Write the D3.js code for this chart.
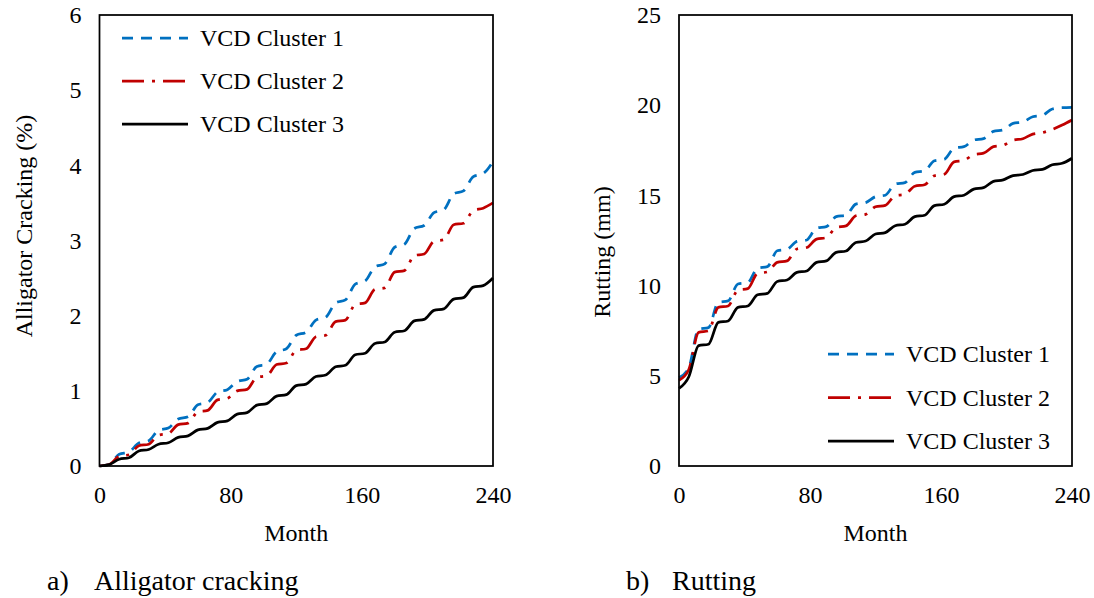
<!DOCTYPE html>
<html>
<head>
<meta charset="utf-8">
<script src="https://cdn.jsdelivr.net/npm/d3@7"></script>
<style>
  html, body { margin: 0; padding: 0; background: #fff; }
  svg { display: block; }
  text { font-family: "Liberation Serif", "Times New Roman", serif; fill: #000; }
</style>
</head>
<body>
<svg id="chart" width="1094" height="598"></svg>
<script>
// ---- Data ----
const months = [0,6,12,18,24,30,36,42,48,54,60,66,72,78,84,90,96,102,108,114,120,126,132,138,144,150,156,162,168,174,180,186,192,198,204,210,216,222,228,234,240];

const seriesNames = ["VCD Cluster 1", "VCD Cluster 2", "VCD Cluster 3"];

// Alligator cracking (%)
const crackC1 = [0.00,0.02,0.155,0.185,0.305,0.335,0.475,0.505,0.625,0.655,0.815,0.845,0.985,1.015,1.125,1.155,1.325,1.355,1.52,1.56,1.74,1.78,1.94,1.98,2.17,2.21,2.42,2.46,2.65,2.69,2.91,2.95,3.16,3.20,3.37,3.41,3.62,3.66,3.85,3.89,4.05];
const crackC2 = [0.00,0.02,0.13,0.15,0.27,0.29,0.41,0.43,0.55,0.57,0.72,0.74,0.88,0.90,1.00,1.02,1.18,1.20,1.35,1.37,1.54,1.56,1.72,1.74,1.92,1.94,2.15,2.17,2.35,2.37,2.58,2.60,2.80,2.82,2.99,3.01,3.21,3.23,3.40,3.43,3.50];
const crackC3 = [0.00,0.02,0.09,0.11,0.20,0.22,0.29,0.31,0.38,0.40,0.48,0.50,0.58,0.60,0.69,0.71,0.81,0.83,0.93,0.95,1.07,1.09,1.19,1.21,1.32,1.34,1.48,1.50,1.63,1.65,1.78,1.80,1.93,1.95,2.07,2.09,2.22,2.24,2.38,2.40,2.50];

// Rutting (mm)
const rutC1 = [4.90,5.45,7.59,7.67,9.07,9.15,10.09,10.17,10.97,11.05,11.93,12.01,12.45,12.53,13.19,13.27,13.82,13.90,14.52,14.60,14.93,15.01,15.63,15.71,16.28,16.36,16.92,17.00,17.62,17.70,18.07,18.15,18.55,18.63,18.99,19.07,19.36,19.44,19.79,19.86,19.88];
const rutC2 = [4.75,5.35,7.41,7.49,8.79,8.87,9.75,9.83,10.68,10.76,11.29,11.37,12.03,12.11,12.58,12.66,13.23,13.31,13.87,13.95,14.37,14.45,14.98,15.06,15.51,15.59,16.09,16.17,16.86,16.94,17.26,17.34,17.70,17.78,18.06,18.14,18.40,18.48,18.66,18.90,19.18];
const rutC3 = [4.30,4.95,6.67,6.75,7.96,8.04,8.79,8.87,9.49,9.57,10.23,10.31,10.73,10.81,11.29,11.37,11.84,11.92,12.39,12.47,12.86,12.94,13.32,13.40,13.82,13.90,14.43,14.51,14.93,15.01,15.35,15.43,15.78,15.86,16.10,16.16,16.38,16.44,16.70,16.78,17.06];

const xTicks = [0, 80, 160, 240];
const crackYTicks = [0, 1, 2, 3, 4, 5, 6];
const rutYTicks = [0, 5, 10, 15, 20, 25];

// ---- Styles ----
const colors = ["#0070C0", "#C00000", "#000000"];
const dashes = ["11,8", "22,8,3,8", null];
const lineW = 2.75;

const svg = d3.select("#chart");

function panel(opts) {
  const { left, right, top, bottom, yMax, yTicks, yTitle, yTitleX, yTitleY, series,
          legendX, legendY, legendGap, caption, captionX, captionTextX } = opts;
  const x = d3.scaleLinear().domain([0, 240]).range([left, right]);
  const y = d3.scaleLinear().domain([0, yMax]).range([bottom, top]);
  const g = svg.append("g");

  // curves
  const line = d3.line()
    .x((d, i) => x(months[i]))
    .y(d => y(d))
    .curve(d3.curveMonotoneX);
  series.forEach((s, i) => {
    g.append("path")
      .attr("d", line(s))
      .attr("fill", "none")
      .attr("stroke", colors[i])
      .attr("stroke-width", lineW)
      .attr("stroke-dasharray", dashes[i]);
  });

  // frame
  g.append("rect")
    .attr("x", left).attr("y", top)
    .attr("width", right - left).attr("height", bottom - top)
    .attr("fill", "none").attr("stroke", "#000").attr("stroke-width", 1.75);

  // y tick labels
  const yAxis = d3.axisLeft(y).tickValues(yTicks).tickFormat(d3.format("d")).tickSize(0).tickPadding(18);
  const ya = g.append("g").attr("transform", `translate(${left},0)`).call(yAxis);
  ya.select(".domain").remove();
  ya.selectAll("text").style("font-size", "24px").style("font-family", '"Liberation Serif", serif').attr("fill", "#000");

  // x tick labels
  const xAxis = d3.axisBottom(x).tickValues(xTicks).tickFormat(d3.format("d")).tickSize(0).tickPadding(20);
  const xa = g.append("g").attr("transform", `translate(0,${bottom})`).call(xAxis);
  xa.select(".domain").remove();
  xa.selectAll("text").style("font-size", "24px").style("font-family", '"Liberation Serif", serif').attr("fill", "#000");

  // x title
  g.append("text")
    .attr("x", (left + right) / 2).attr("y", 541)
    .attr("text-anchor", "middle")
    .style("font-size", "24px")
    .text("Month");

  // y title
  g.append("text")
    .attr("transform", `translate(${yTitleX},${yTitleY}) rotate(-90)`)
    .attr("text-anchor", "middle")
    .style("font-size", "24px")
    .text(yTitle);

  // legend
  seriesNames.forEach((name, i) => {
    const ly = legendY + i * legendGap;
    g.append("line")
      .attr("x1", legendX).attr("x2", legendX + 66)
      .attr("y1", ly).attr("y2", ly)
      .attr("stroke", colors[i]).attr("stroke-width", lineW)
      .attr("stroke-dasharray", dashes[i]);
    g.append("text")
      .attr("x", legendX + 78).attr("y", ly)
      .attr("dy", "0.35em")
      .style("font-size", "24px")
      .text(name);
  });

  // caption
  g.append("text").attr("x", captionX).attr("y", 590).style("font-size", "28px").text(caption[0]);
  g.append("text").attr("x", captionTextX).attr("y", 590).style("font-size", "28px").text(caption[1]);
}

panel({
  left: 99.5, right: 493, top: 15, bottom: 466,
  yMax: 6, yTicks: crackYTicks, yTitle: "Alligator Cracking (%)", yTitleX: 32, yTitleY: 226,
  series: [crackC1, crackC2, crackC3],
  legendX: 122, legendY: 38, legendGap: 43,
  caption: ["a)", "Alligator cracking"], captionX: 47, captionTextX: 94
});

panel({
  left: 679, right: 1072, top: 15, bottom: 466,
  yMax: 25, yTicks: rutYTicks, yTitle: "Rutting (mm)", yTitleX: 610, yTitleY: 252,
  series: [rutC1, rutC2, rutC3],
  legendX: 828, legendY: 354, legendGap: 43.5,
  caption: ["b)", "Rutting"], captionX: 626, captionTextX: 672
});
</script>
</body>
</html>
